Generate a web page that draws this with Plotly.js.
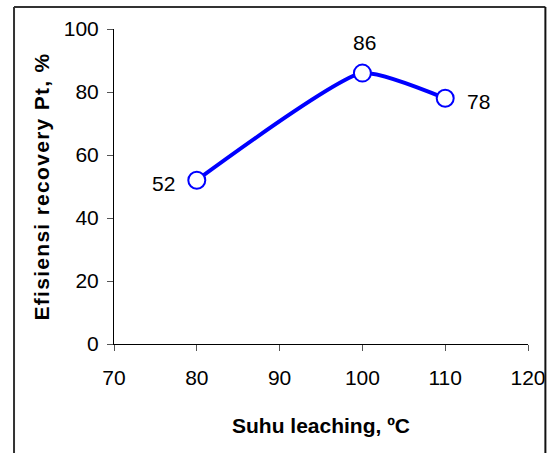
<!DOCTYPE html>
<html>
<head>
<meta charset="utf-8">
<script src="https://cdn.plot.ly/plotly-3.0.1.min.js"></script>
<style>
html,body{margin:0;padding:0;background:#fff;}
#chart{width:548px;height:453px;}
.ytitle{letter-spacing:1.3px;}
</style>
</head>
<body>
<div id="chart"></div>
<script>
const temperatures = [80, 100, 110];
const efficiency = [52, 86, 78];
const labelShiftX = [-33, 2, 33];
const labelShiftY = [-3, 31, -3];
const xTicks = [70, 80, 90, 100, 110, 120];
const yTicks = [0, 20, 40, 60, 80, 100];

const trace = {
  x: temperatures,
  y: efficiency,
  mode: 'lines+markers',
  line: {color: '#0000FF', width: 4, shape: 'spline', smoothing: 0.5},
  marker: {symbol: 'circle', size: 17, color: '#FFFFFF', line: {color: '#0000FF', width: 2}},
  hoverinfo: 'none',
  showlegend: false
};

const annotations = temperatures.map((t, i) => ({
  x: t, y: efficiency[i], xref: 'x', yref: 'y',
  text: String(efficiency[i]), showarrow: false,
  xshift: labelShiftX[i], yshift: labelShiftY[i],
  font: {family: 'Liberation Sans, Arial, sans-serif', size: 21, color: '#000'}
}));

const layout = {
  width: 548, height: 453,
  margin: {l: 114, r: 20, t: 29, b: 109},
  paper_bgcolor: '#FFFFFF', plot_bgcolor: '#FFFFFF',
  font: {family: 'Liberation Sans, Arial, sans-serif', color: '#000'},
  xaxis: {
    range: [70, 120], tickvals: xTicks, ticktext: xTicks.map(String),
    showgrid: false, zeroline: false, showline: true, linecolor: '#000', linewidth: 1,
    ticks: 'outside', ticklen: 6, tickcolor: '#555', tickwidth: 1,
    tickfont: {size: 21}, ticklabelstandoff: 9,
    title: {text: 'Suhu leaching, ºC', font: {size: 21, weight: 'bold'}, standoff: 30},
    automargin: false, fixedrange: true
  },
  yaxis: {
    range: [0, 100], tickvals: yTicks, ticktext: yTicks.map(String),
    showgrid: false, zeroline: false, showline: true, linecolor: '#000', linewidth: 1,
    ticks: 'outside', ticklen: 6, tickcolor: '#555', tickwidth: 1,
    tickfont: {size: 21}, ticklabelstandoff: 4,
    title: {text: 'Efisiensi recovery Pt, %', font: {size: 21, weight: 'bold'}, standoff: 8},
    automargin: false, fixedrange: true
  },
  annotations: annotations,
  shapes: [
    {type: 'line', xref: 'paper', yref: 'paper', x0: -0.2415, x1: -0.2415, y0: 1.0698, y1: -0.4, line: {color: '#333', width: 2}},
    {type: 'line', xref: 'paper', yref: 'paper', x0: -0.2415, x1: 1.042, y0: 1.0698, y1: 1.0698, line: {color: '#333', width: 2}},
    {type: 'line', xref: 'paper', yref: 'paper', x0: 1.042, x1: 1.042, y0: 1.0698, y1: -0.4, line: {color: '#111', width: 2}}
  ]
};

Plotly.newPlot('chart', [trace], layout, {staticPlot: true, displayModeBar: false});
</script>
</body>
</html>
